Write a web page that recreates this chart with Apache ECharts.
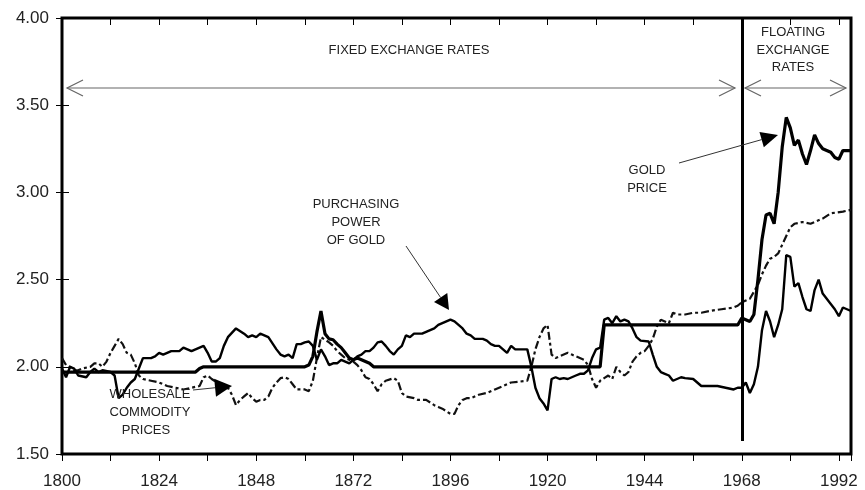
<!DOCTYPE html>
<html>
<head>
<meta charset="utf-8">
<script src="https://cdn.jsdelivr.net/npm/echarts@6/dist/echarts.min.js"></script>
<style>html,body{margin:0;padding:0;background:#fff}#c{width:865px;height:490px}</style>
</head>
<body>
<div id="c"></div>
<script>
// ---- data (log index values) ----
const goldYears = [1800,1833,1834,1835,1860,1861,1862,1863,1864,1865,1866,1867,1868,1869,1870,1871,1872,1873,1874,1875,1876,1877,1878,1933,1934,1967,1968,1969,1970,1971,1972,1973,1974,1975,1976,1977,1978,1979,1980,1981,1982,1983,1984,1985,1986,1987,1988,1989,1990,1991,1992,1993,1994,1995];
const goldValues = [1.97,1.97,1.99,2.00,2.00,2.01,2.06,2.20,2.32,2.19,2.16,2.155,2.13,2.11,2.08,2.05,2.04,2.05,2.04,2.03,2.02,2.00,2.00,2.00,2.24,2.24,2.28,2.27,2.26,2.30,2.50,2.73,2.87,2.88,2.82,3.00,3.26,3.43,3.37,3.27,3.30,3.22,3.16,3.24,3.33,3.28,3.25,3.24,3.23,3.20,3.19,3.24,3.24,3.24];

const ppYears = [1800,1801,1802,1803,1804,1806,1807,1808,1809,1810,1812,1813,1814,1815,1816,1817,1818,1819,1820,1822,1823,1824,1825,1826,1827,1829,1830,1831,1832,1833,1835,1836,1837,1838,1839,1840,1841,1843,1845,1846,1847,1848,1849,1851,1853,1854,1855,1856,1857,1858,1859,1860,1861,1862,1863,1864,1865,1866,1867,1868,1869,1870,1871,1872,1873,1874,1875,1876,1877,1878,1879,1880,1881,1882,1883,1884,1885,1886,1887,1889,1890,1891,1892,1893,1894,1895,1896,1897,1898,1899,1900,1901,1902,1904,1905,1906,1907,1908,1909,1910,1911,1912,1915,1916,1917,1918,1919,1920,1921,1922,1923,1924,1925,1926,1927,1928,1929,1930,1931,1932,1933,1934,1935,1936,1937,1938,1939,1940,1941,1942,1943,1945,1946,1947,1948,1949,1950,1951,1952,1953,1954,1956,1957,1958,1962,1964,1966,1967,1968,1969,1970,1971,1972,1973,1974,1975,1976,1977,1978,1979,1980,1981,1982,1983,1984,1985,1986,1987,1988,1989,1990,1991,1992,1993,1994,1995];
const ppValues = [1.99,1.94,2.00,1.99,1.95,1.94,1.97,1.99,1.97,1.98,1.97,1.95,1.82,1.84,1.88,1.91,1.93,1.99,2.05,2.05,2.06,2.08,2.07,2.08,2.09,2.09,2.11,2.10,2.09,2.10,2.12,2.08,2.03,2.03,2.05,2.12,2.17,2.22,2.19,2.17,2.18,2.17,2.19,2.17,2.10,2.07,2.06,2.07,2.05,2.13,2.13,2.14,2.145,2.12,2.04,2.10,2.06,2.01,2.02,2.02,2.04,2.03,2.02,2.04,2.06,2.07,2.09,2.09,2.11,2.14,2.145,2.12,2.09,2.07,2.10,2.12,2.18,2.17,2.19,2.19,2.20,2.21,2.22,2.24,2.25,2.26,2.27,2.26,2.24,2.22,2.19,2.18,2.16,2.16,2.15,2.13,2.12,2.12,2.10,2.08,2.12,2.10,2.10,2.00,1.88,1.82,1.79,1.75,1.93,1.94,1.93,1.935,1.93,1.94,1.95,1.96,1.96,1.98,2.05,2.10,2.11,2.27,2.28,2.25,2.29,2.26,2.27,2.26,2.22,2.17,2.15,2.145,2.07,2.00,1.97,1.96,1.95,1.92,1.93,1.94,1.935,1.93,1.91,1.89,1.89,1.88,1.87,1.88,1.88,1.91,1.85,1.90,2.00,2.21,2.32,2.26,2.17,2.24,2.33,2.64,2.63,2.46,2.48,2.40,2.33,2.32,2.44,2.50,2.42,2.39,2.36,2.33,2.29,2.34,2.33,2.32];

const wpiYears = [1800,1801,1802,1803,1804,1805,1807,1808,1809,1810,1811,1812,1813,1814,1815,1816,1817,1818,1819,1820,1822,1824,1826,1828,1830,1832,1834,1835,1836,1837,1839,1840,1841,1842,1843,1844,1845,1846,1847,1848,1849,1850,1851,1852,1853,1854,1855,1856,1857,1858,1860,1861,1862,1863,1864,1865,1866,1867,1868,1869,1870,1871,1872,1873,1874,1875,1876,1877,1878,1879,1880,1882,1883,1884,1885,1887,1888,1890,1892,1893,1894,1895,1896,1897,1898,1899,1900,1901,1903,1905,1907,1909,1911,1913,1915,1916,1917,1918,1919,1920,1921,1922,1923,1924,1925,1926,1927,1928,1929,1930,1931,1932,1933,1934,1935,1936,1937,1938,1939,1940,1941,1942,1943,1944,1945,1946,1947,1948,1949,1950,1951,1952,1954,1956,1958,1960,1963,1966,1967,1968,1969,1970,1971,1972,1973,1974,1975,1976,1977,1978,1979,1980,1981,1983,1985,1986,1988,1990,1993,1995];
const wpiValues = [2.05,2.01,2.00,1.98,1.98,1.99,2.00,2.02,2.02,2.00,2.03,2.08,2.12,2.16,2.13,2.08,2.07,2.02,1.95,1.93,1.92,1.91,1.89,1.88,1.87,1.88,1.89,1.94,1.95,1.93,1.90,1.90,1.88,1.84,1.78,1.81,1.83,1.85,1.82,1.80,1.81,1.81,1.83,1.88,1.91,1.935,1.94,1.93,1.90,1.87,1.87,1.86,1.92,2.05,2.17,2.155,2.14,2.12,2.09,2.07,2.05,2.04,2.03,2.01,1.98,1.94,1.93,1.90,1.86,1.90,1.92,1.935,1.92,1.85,1.83,1.82,1.81,1.81,1.78,1.77,1.76,1.745,1.73,1.73,1.78,1.81,1.82,1.82,1.84,1.85,1.87,1.89,1.91,1.915,1.92,2.00,2.10,2.17,2.22,2.24,2.07,2.05,2.06,2.07,2.08,2.07,2.06,2.05,2.04,2.01,1.93,1.88,1.92,1.935,1.95,1.93,2.00,1.97,1.95,1.97,2.03,2.06,2.08,2.09,2.12,2.16,2.23,2.27,2.26,2.25,2.31,2.30,2.30,2.31,2.31,2.32,2.33,2.34,2.35,2.37,2.38,2.39,2.43,2.47,2.53,2.58,2.62,2.63,2.65,2.70,2.75,2.80,2.82,2.83,2.82,2.83,2.85,2.88,2.89,2.90];

const yTicks = [1.5, 2.0, 2.5, 3.0, 3.5, 4.0];
const xLabelStep = 24;
const regimeSwitchYear = 1968;

const zip = (xs, ys) => xs.map((x, i) => [x, ys[i]]);
const FONT = '"Liberation Sans", Arial, sans-serif';

const chart = echarts.init(document.getElementById('c'), null, {renderer: 'canvas'});

const xAxisBase = {
  type: 'value', min: 1800, max: 1995, interval: 12,
  axisLine: {show: false}, splitLine: {show: false}
};
const yAxisBase = {
  type: 'value', min: yTicks[0], max: yTicks[yTicks.length - 1], interval: 0.5,
  axisLine: {show: false}, splitLine: {show: false}
};

chart.setOption({
  animation: false,
  backgroundColor: '#fff',
  grid: {left: 62, right: 14, top: 18, bottom: 36, show: true, borderColor: '#000', borderWidth: 3, backgroundColor: 'transparent'},
  xAxis: [
    Object.assign({}, xAxisBase, {
      axisTick: {show: true, inside: false, length: 7, lineStyle: {color: '#000', width: 1}},
      axisLabel: {
        margin: 19, color: '#222', fontSize: 17, fontFamily: FONT,
        formatter: v => ((v - 1800) % xLabelStep === 0 ? String(v) : '')
      }
    }),
    Object.assign({}, xAxisBase, {
      axisTick: {show: true, inside: true, length: 7, lineStyle: {color: '#000', width: 1}},
      axisLabel: {show: false}
    })
  ],
  yAxis: [
    Object.assign({}, yAxisBase, {
      axisTick: {show: true, inside: false, length: 6, lineStyle: {color: '#000', width: 1}},
      axisLabel: {margin: 13, color: '#222', fontSize: 17, fontFamily: FONT, formatter: v => v.toFixed(2)}
    }),
    Object.assign({}, yAxisBase, {
      position: 'left',
      axisTick: {show: true, inside: true, length: 7, lineStyle: {color: '#000', width: 1}},
      axisLabel: {show: false}
    })
  ],
  series: [
    {
      name: 'Wholesale commodity prices', type: 'line', data: zip(wpiYears, wpiValues),
      showSymbol: false, symbol: 'none',
      lineStyle: {color: '#111', width: 2.2, type: [8, 3, 3, 3]}, z: 2
    },
    {
      name: 'Purchasing power of gold', type: 'line', data: zip(ppYears, ppValues),
      showSymbol: false, symbol: 'none',
      lineStyle: {color: '#000', width: 2.4}, z: 3
    },
    {
      name: 'Gold price', type: 'line', data: zip(goldYears, goldValues),
      showSymbol: false, symbol: 'none',
      lineStyle: {color: '#000', width: 3.2}, z: 4,
      markLine: {
        silent: true, symbol: 'none', label: {show: false},
        lineStyle: {color: '#000', width: 3, type: 'solid'},
        data: [[{coord: [regimeSwitchYear, 4.0]}, {coord: [regimeSwitchYear, 1.575]}]]
      }
    }
  ]
});

// ---- annotations ----
function chevLine(x1, x2, y, color) {
  return {type: 'polyline', z: 100, shape: {points: [[x1, y], [x2, y]]}, style: {stroke: color, lineWidth: 1.2, fill: null}};
}
function chevron(tx, ty, dir, color) {
  const L = 16, H = 8;
  return {type: 'polyline', z: 100, shape: {points: [[tx - dir * L, ty - H], [tx, ty], [tx - dir * L, ty + H]]}, style: {stroke: color, lineWidth: 1.2, fill: null}};
}
function arrow(sx, sy, tx, ty, len, half) {
  const dx = tx - sx, dy = ty - sy, d = Math.hypot(dx, dy);
  const ux = dx / d, uy = dy / d, px = -uy, py = ux;
  const bx = tx - ux * len, by = ty - uy * len;
  return [
    {type: 'polyline', z: 100, shape: {points: [[sx, sy], [bx, by]]}, style: {stroke: '#333', lineWidth: 1, fill: null}},
    {type: 'polygon', z: 100, shape: {points: [[tx, ty], [bx + px * half, by + py * half], [bx - px * half, by - py * half]]}, style: {fill: '#000'}}
  ];
}
function txt(s, cx, cy) {
  return {type: 'text', z: 100, x: cx, y: cy, style: {text: s, fill: '#222', font: '13px ' + FONT, textAlign: 'center', textVerticalAlign: 'middle'}};
}

const gray = '#666';
const g = [];
g.push(chevLine(67, 735, 88, gray), chevron(67, 88, -1, gray), chevron(735, 88, 1, gray));
g.push(chevLine(745, 846, 88, gray), chevron(745, 88, -1, gray), chevron(846, 88, 1, gray));
g.push(txt('FIXED EXCHANGE RATES', 409, 50));
g.push(txt('FLOATING', 793, 32), txt('EXCHANGE', 793, 50), txt('RATES', 793, 67));
g.push(txt('GOLD', 647, 170), txt('PRICE', 647, 188));
g.push(txt('PURCHASING', 356, 204), txt('POWER', 356, 222), txt('OF GOLD', 356, 240));
g.push(txt('WHOLESALE', 150, 394), txt('COMMODITY', 150, 412), txt('PRICES', 146, 430));
g.push(...arrow(679, 163, 778, 135, 17, 8));
g.push(...arrow(406, 246, 449, 310, 15, 8));
g.push(...arrow(193, 390, 232, 386, 17, 9));
chart.setOption({graphic: {elements: g}});
</script>
</body>
</html>
